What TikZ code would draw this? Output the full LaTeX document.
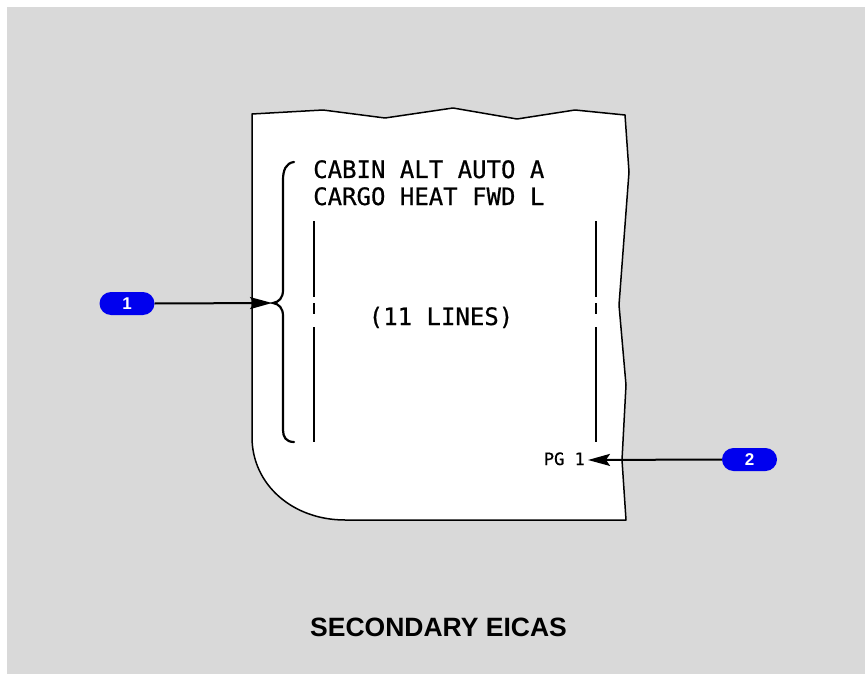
\documentclass[tikz,border=0pt]{standalone}
\usepackage{fontspec}
\newfontfamily\monofont[FakeBold=0.6]{DejaVu Sans Mono}
\newfontfamily\arialfont{Liberation Sans}
\usetikzlibrary{arrows.meta}
\definecolor{bggray}{RGB}{217,217,217}
\definecolor{badgeblue}{RGB}{0,0,238}
\tikzset{
  paperline/.style={line width=1.5pt, line join=round},
  screentext/.style={font=\monofont\fontsize{24}{27}\selectfont, inner sep=0pt},
  pgtext/.style={font=\monofont\fontsize{17}{20}\selectfont, inner sep=0pt},
  badge/.style={fill=badgeblue, rounded corners=11.5pt, minimum width=55pt, minimum height=23pt, inner sep=0pt, text=white, font=\arialfont\bfseries\fontsize{17}{20}\selectfont},
  callout/.style={line width=2pt, -{Stealth[length=22pt,width=12pt,inset=4pt]}},
  barline/.style={line width=2pt},
}
\begin{document}
\begin{tikzpicture}[x=1pt,y=-1pt]
\useasboundingbox (0,0) rectangle (865,674);
\fill[bggray] (7,7) rectangle (865,674);
% paper
\draw[paperline, fill=white]
  (252,114) -- (323,110) -- (385,118) -- (453,108) -- (517,119) -- (575,110) -- (625,115)
  -- (629,172) -- (619,305) -- (626,385) -- (622,460) -- (626,520)
  -- (345,520) .. controls (293,520) and (252,485) .. (252,437) -- cycle;
% brace
\draw[line width=2.2pt, line cap=round]
  (294,162) .. controls (286,163) and (283,170) .. (283,180) -- (283,290)
  .. controls (283,298) and (279,302) .. (273,303)
  .. controls (279,304) and (283,308) .. (283,316) -- (283,430)
  .. controls (283,437) and (286,442) .. (294,442);
\coordinate (bracetip) at (272,303);
% vertical bars
\draw[barline] (314,221) -- (314,297) (314,303) -- (314,314) (314,327) -- (314,442);
\draw[barline] (596,221) -- (596,297) (596,303) -- (596,314) (596,327) -- (596,442);
% texts
\node[screentext, anchor=base west] (l1) at (313,178) {CABIN ALT AUTO A};
\node[screentext, anchor=base west] (l2) at (313,205) {CARGO HEAT FWD L};
\node[screentext, anchor=base] (lines) at (441,325) {(11 LINES)};
\node[pgtext, anchor=base east] (pg) at (585,465) {PG 1};
\coordinate (pgtip) at (588,460);
% badges
\node[badge] (b1) at (127,303.5) {1};
\node[badge] (b2) at (749.5,459.5) {2};
\draw[callout] (b1.east) -- (bracetip);
\draw[callout] (b2.west) -- (pgtip);
% title
\node[font=\arialfont\bfseries\fontsize{26.5}{30}\selectfont, inner sep=0pt, anchor=base] (title) at (438.5,636) {SECONDARY EICAS};
\end{tikzpicture}
\end{document}
